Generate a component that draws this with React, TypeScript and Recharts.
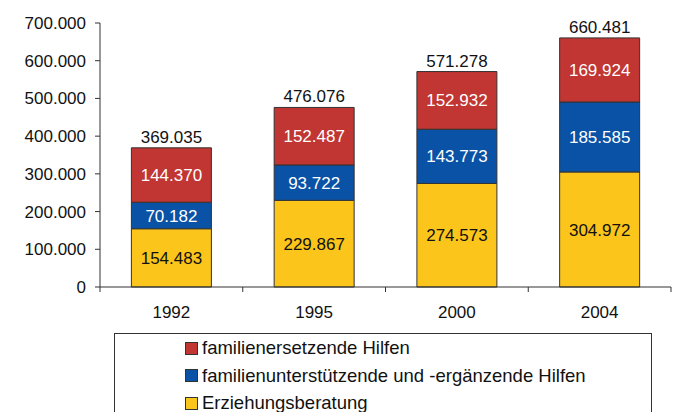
import React from "react";
import { BarChart, Bar, XAxis, YAxis, LabelList } from "recharts";

const years = ["1992", "1995", "2000", "2004"];
const erziehungsberatung = [154483, 229867, 274573, 304972];
const unterstuetzende = [70182, 93722, 143773, 185585];
const ersetzende = [144370, 152487, 152932, 169924];
const totals = [369035, 476076, 571278, 660481];
const yTicks = [0, 100000, 200000, 300000, 400000, 500000, 600000, 700000];

const seriesNames = {
  ersetz: "familienersetzende Hilfen",
  unterst: "familienunterstützende und -ergänzende Hilfen",
  erz: "Erziehungsberatung",
};
const colors = { ersetz: "#C13532", unterst: "#0A52A5", erz: "#FBC51C" };

const data = years.map((y, i) => ({
  year: y,
  erz: erziehungsberatung[i],
  unterst: unterstuetzende[i],
  ersetz: ersetzende[i],
  total: totals[i],
}));

const fmt = (v: any) => {
  const n = Number(v);
  if (n === 0) return "0";
  return String(Math.round(n)).replace(/\B(?=(\d{3})+(?!\d))/g, ".");
};

const FONT = "'Liberation Sans', Arial, Helvetica, sans-serif";
const FS = 17;
const LFS = 18.5;

const legendItems = [
  { key: "ersetz", name: seriesNames.ersetz, color: colors.ersetz },
  { key: "unterst", name: seriesNames.unterst, color: colors.unterst },
  { key: "erz", name: seriesNames.erz, color: colors.erz },
];

const XTick = (props: any) => {
  const { x, y, payload, index, visibleTicksCount, width } = props;
  const half =
    payload && payload.offset ? payload.offset : (width || 0) / (visibleTicksCount || 1) / 2;
  const axisY = y - 6;
  return (
    <g>
      <line x1={x - half} x2={x - half} y1={axisY} y2={axisY + 5} stroke="#333" />
      {index === (visibleTicksCount || 4) - 1 && (
        <line x1={x + half} x2={x + half} y1={axisY} y2={axisY + 5} stroke="#333" />
      )}
      <text x={x} y={axisY + 31} textAnchor="middle" fill="#111" fontSize={FS} fontFamily={FONT}>
        {payload.value}
      </text>
    </g>
  );
};

export default function App() {
  return (
    <div style={{ position: "absolute", left: 0, top: 0, width: 677, height: 412, background: "#fff", overflow: "hidden", fontFamily: FONT }}>
      <BarChart
        width={677}
        height={412}
        data={data}
        margin={{ top: 23, right: 6, left: 0, bottom: 85 }}
        barCategoryGap="22%"
      >
        <XAxis
          dataKey="year"
          height={40}
          tickLine={false}
          axisLine={{ stroke: "#333" }}
          tickSize={6}
          tickMargin={0}
          interval={0}
          tick={<XTick />}
        />
        <YAxis
          width={100}
          domain={[0, 700000]}
          ticks={yTicks}
          tickFormatter={fmt}
          tickSize={5}
          tickMargin={9}
          axisLine={{ stroke: "#333" }}
          tickLine={{ stroke: "#333" }}
          tick={{ fill: "#111", fontSize: FS, fontFamily: FONT }}
          interval={0}
        />
        <Bar dataKey="erz" stackId="a" fill={colors.erz} stroke="#333" strokeWidth={1} isAnimationActive={false}>
          <LabelList dataKey="erz" position="center" formatter={fmt} fill="#111" fontSize={FS} fontFamily={FONT} />
        </Bar>
        <Bar dataKey="unterst" stackId="a" fill={colors.unterst} stroke="#333" strokeWidth={1} isAnimationActive={false}>
          <LabelList dataKey="unterst" position="center" formatter={fmt} fill="#fff" fontSize={FS} fontFamily={FONT} />
        </Bar>
        <Bar dataKey="ersetz" stackId="a" fill={colors.ersetz} stroke="#333" strokeWidth={1} isAnimationActive={false}>
          <LabelList dataKey="ersetz" position="center" formatter={fmt} fill="#fff" fontSize={FS} fontFamily={FONT} />
          <LabelList dataKey="total" position="top" offset={5} formatter={fmt} fill="#111" fontSize={FS} fontFamily={FONT} />
        </Bar>
      </BarChart>
      <div
        style={{
          position: "absolute",
          left: 114,
          top: 333,
          width: 538,
          height: 100,
          border: "1px solid #333",
          boxSizing: "border-box",
          background: "#fff",
        }}
      >
        {legendItems.map((it, i) => (
          <div
            key={it.key}
            style={{
              position: "absolute",
              left: 70,
              top: 3 + i * 27.5,
              height: 22,
              display: "flex",
              alignItems: "center",
              fontSize: LFS,
              color: "#111",
              whiteSpace: "nowrap",
            }}
          >
            <span
              style={{
                display: "inline-block",
                width: 11,
                height: 11,
                background: it.color,
                border: "1px solid #333",
                marginRight: 4,
              }}
            />
            {it.name}
          </div>
        ))}
      </div>
    </div>
  );
}
